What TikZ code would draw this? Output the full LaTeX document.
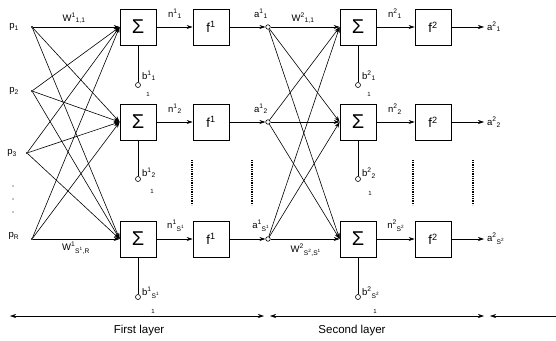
\documentclass[tikz,border=0pt]{standalone}
\usepackage{fontspec}
\setmainfont{Liberation Sans}
\usetikzlibrary{arrows.meta}
\newcommand\ssx[3]{#1\textsuperscript{#2}\textsubscript{#3}}
\begin{document}
\begin{tikzpicture}[x=1pt,y=-1pt,
 box/.style={draw,line width=0.75pt,minimum width=36pt,minimum height=36pt,inner sep=0pt},
 sumbox/.style={box,font=\fontsize{20}{20}\selectfont},
 funbox/.style={box,font=\fontsize{13}{13}\selectfont},
 wire/.style={line width=0.6pt},
 arr/.style={wire,-{Stealth[length=6pt,width=4pt]}},
 dot/.style={circle,fill,inner sep=0pt,minimum size=2.2pt},
 hollow/.style={circle,draw,fill=white,inner sep=0pt,minimum size=5pt,line width=0.6pt},
 lbl/.style={font=\fontsize{9.5}{10}\selectfont,inner sep=1pt},
 one/.style={font=\fontsize{6}{6}\selectfont,inner sep=1pt},
 dotline/.style={line width=1.3pt,dash pattern=on 0.8pt off 1pt},
 ]
\useasboundingbox (0,0) rectangle (556,340);
% inputs
\node[dot] (p1) at (32,27) {};
\node[dot] (p2) at (32,91) {};
\node[dot] (p3) at (27,153) {};
\node[dot] (pR) at (32,239) {};
\node[lbl] (lp1) at (14,27) {p\textsubscript{1}};
\node[lbl] (lp2) at (14,91) {p\textsubscript{2}};
\node[lbl] (lp3) at (12,153) {p\textsubscript{3}};
\node[lbl] (lpR) at (14,236) {p\textsubscript{R}};
\foreach \yy in {186,199,212} \fill (13,\yy) circle (0.6pt);
% layers
\foreach \i/\yy in {1/27,2/122,3/239}{
  \node[sumbox] (s1\i) at (138,\yy) {Σ};
  \node[funbox] (f1\i) at (211,\yy) {f\textsuperscript{1}};
  \node[hollow,minimum size=4.5pt] (a1\i) at (268,\yy) {};
  \node[sumbox] (s2\i) at (358,\yy) {Σ};
  \node[funbox] (f2\i) at (433,\yy) {f\textsuperscript{2}};
  \coordinate (o\i) at (484,\yy);
  \draw[arr] (s1\i.east) -- (f1\i.west);
  \draw[arr] (f1\i.east) -- (a1\i.west);
  \draw[arr] (s2\i.east) -- (f2\i.west);
  \draw[arr] (f2\i.east) -- (o\i);
}
\foreach \p in {p1,p2,p3,pR}
  \foreach \s in {s11,s12,s13}
    \draw[arr] (\p) -- (\s.west);
\foreach \a in {a11,a12,a13}
  \foreach \s in {s21,s22,s23}
    \draw[arr] (\a) -- (\s.west);
% biases
\node[hollow] (b11) at (138,85) {};
\node[hollow] (b12) at (138,179) {};
\node[hollow] (b13) at (138,297) {};
\node[hollow] (b21) at (358,85) {};
\node[hollow] (b22) at (358,179) {};
\node[hollow] (b23) at (358,297) {};
\foreach \i in {1,2,3}{
  \draw[wire] (s1\i.south) -- (b1\i.north);
  \draw[wire] (s2\i.south) -- (b2\i.north);
}
\node[lbl,anchor=west] (lb11) at (141,76) {\ssx{b}{1}{1}};
\node[lbl,anchor=west] (lb12) at (141,173) {\ssx{b}{1}{2}};
\node[lbl,anchor=west] (lb13) at (141,293) {\ssx{b}{1}{S\textsuperscript{1}}};
\node[lbl,anchor=west] (lb21) at (361,76) {\ssx{b}{2}{1}};
\node[lbl,anchor=west] (lb22) at (361,173) {\ssx{b}{2}{2}};
\node[lbl,anchor=west] (lb23) at (361,293) {\ssx{b}{2}{S\textsuperscript{2}}};
\node[one] (u11) at (148,94) {1};
\node[one] (u12) at (152,191) {1};
\node[one] (u13) at (153,311) {1};
\node[one] (u21) at (369,94) {1};
\node[one] (u22) at (370,193) {1};
\node[one] (u23) at (375,311) {1};
% weight labels
\node[lbl] (w11) at (74,18) {\ssx{W}{1}{1,1}};
\node[lbl] (w1s) at (76,248) {\ssx{W}{1}{S\textsuperscript{1},R}};
\node[lbl] (w21) at (303,18) {\ssx{W}{2}{1,1}};
\node[lbl] (w2s) at (306,250) {\ssx{W}{2}{S\textsuperscript{2},S\textsuperscript{1}}};
% n and a labels
\node[lbl] (n11) at (175,14) {\ssx{n}{1}{1}};
\node[lbl] (n12) at (175,109) {\ssx{n}{1}{2}};
\node[lbl] (n13) at (176,226) {\ssx{n}{1}{S\textsuperscript{1}}};
\node[lbl] (la11) at (261,14) {\ssx{a}{1}{1}};
\node[lbl] (la12) at (261,109) {\ssx{a}{1}{2}};
\node[lbl] (la13) at (261,226) {\ssx{a}{1}{S\textsuperscript{1}}};
\node[lbl] (n21) at (395,14) {\ssx{n}{2}{1}};
\node[lbl] (n22) at (395,109) {\ssx{n}{2}{2}};
\node[lbl] (n23) at (396,226) {\ssx{n}{2}{S\textsuperscript{2}}};
\node[lbl,anchor=west] (la21) at (486,27) {\ssx{a}{2}{1}};
\node[lbl,anchor=west] (la22) at (486,122) {\ssx{a}{2}{2}};
\node[lbl,anchor=west] (la23) at (486,239) {\ssx{a}{2}{S\textsuperscript{2}}};
% vertical dotted lines
\foreach \xx in {192,252,413,473} \draw[dotline] (\xx,160) -- (\xx,205);
% layer extents
\coordinate (L1) at (10,316);
\coordinate (R1) at (264,316);
\coordinate (L2) at (270,316);
\coordinate (R2) at (484,316);
\coordinate (L3) at (490,316);
\coordinate (R3) at (556,316);
\draw[wire,{Stealth[length=6pt,width=4pt]}-{Stealth[length=6pt,width=4pt]}] (L1) -- (R1);
\draw[wire,{Stealth[length=6pt,width=4pt]}-{Stealth[length=6pt,width=4pt]}] (L2) -- (R2);
\draw[wire,{Stealth[length=6pt,width=4pt]}-] (L3) -- (R3);
\node[font=\fontsize{11.5}{12}\selectfont] (t1) at (139,331) {First layer};
\node[font=\fontsize{11.5}{12}\selectfont] (t2) at (352,331) {Second layer};
\end{tikzpicture}
\end{document}
